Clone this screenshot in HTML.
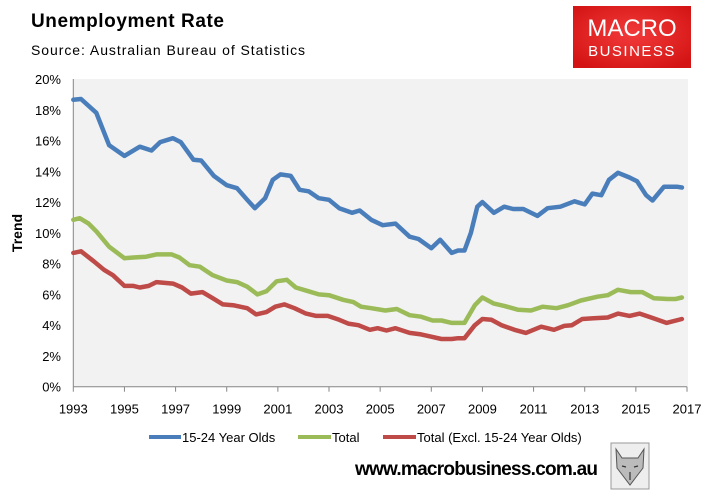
<!DOCTYPE html>
<html><head><meta charset="utf-8"><style>
body{margin:0;background:#fff;font-family:"Liberation Sans",sans-serif}
#w{position:relative;width:710px;height:496px;overflow:hidden}
</style></head><body>
<div id="w">
<svg width="710" height="496" font-family="Liberation Sans, sans-serif">
<text x="31" y="27" font-size="19" font-weight="bold" fill="#000" textLength="193">Unemployment Rate</text>
<text x="31" y="55" font-size="14" fill="#000" textLength="274">Source: Australian Bureau of Statistics</text>
<g>
<defs><radialGradient id="rg" cx="50%" cy="45%" r="65%"><stop offset="0" stop-color="#f23a3a"/><stop offset="1" stop-color="#d41414"/></radialGradient></defs>
<rect x="573" y="6" width="118" height="62" fill="url(#rg)"/>
<text x="632" y="36" font-size="24" fill="#fff" text-anchor="middle">MACRO</text>
<text x="632" y="56" font-size="15" fill="#fff" text-anchor="middle" letter-spacing="1.5">BUSINESS</text>
</g>
<rect x="73" y="79" width="615" height="308" fill="#f2f2f2"/>
<g id="axes"></g>
<g id="series"></g>
<text transform="translate(22,233) rotate(-90)" font-size="14" font-weight="bold" text-anchor="middle">Trend</text>
<g font-size="13">
<g><line x1="149" y1="437" x2="181" y2="437" stroke="#4a7ebb" stroke-width="4"/><text x="182" y="442">15-24 Year Olds</text></g>
<g><line x1="298" y1="437" x2="331" y2="437" stroke="#9bbb59" stroke-width="4"/><text x="332" y="442">Total</text></g>
<g><line x1="383" y1="437" x2="416" y2="437" stroke="#be4b48" stroke-width="4"/><text x="417" y="442">Total (Excl. 15-24 Year Olds)</text></g>
</g>
<text x="598" y="475" font-size="19" font-weight="bold" text-anchor="end" textLength="243">www.macrobusiness.com.au</text>
<g>
<rect x="611" y="443" width="38" height="46" fill="#eee" stroke="#999" stroke-width="1"/>
<path d="M616 449 L622 458 L638 458 L644 449 L643 468 L630 485 L617 468 Z" fill="#bbb" stroke="#555" stroke-width="1"/>
<path d="M622 466 l4 1 M634 467 l4 -1 M630 472 v8" stroke="#333" stroke-width="1.2"/>
</g>
</svg>
</div>
<script>
const years=[1993,1993.3,1993.9,1994.4,1995.0,1995.6,1996.06,1996.4,1996.9,1997.2,1997.7,1998.0,1998.5,1999.0,1999.4,1999.8,2000.1,2000.5,2000.8,2001.1,2001.5,2001.85,2002.2,2002.6,2003.0,2003.4,2003.9,2004.2,2004.65,2005.1,2005.6,2006.15,2006.5,2007.0,2007.35,2007.8,2008.05,2008.3,2008.55,2008.8,2009.0,2009.45,2009.85,2010.2,2010.6,2011.15,2011.55,2012.05,2012.6,2013.0,2013.3,2013.65,2013.95,2014.3,2014.75,2015.05,2015.4,2015.65,2016.1,2016.6,2016.8];
const youth=[18.65,18.7,17.8,15.7,15.0,15.6,15.35,15.9,16.15,15.9,14.75,14.7,13.7,13.1,12.9,12.15,11.6,12.25,13.45,13.8,13.7,12.8,12.7,12.25,12.15,11.6,11.3,11.45,10.85,10.5,10.6,9.75,9.6,9.0,9.55,8.7,8.85,8.85,10.0,11.7,12.0,11.3,11.7,11.55,11.55,11.1,11.6,11.7,12.05,11.85,12.55,12.45,13.45,13.9,13.6,13.35,12.45,12.1,13.0,13.0,12.95];
const totYears=[1993,1993.25,1993.6,1993.9,1994.4,1995.0,1995.35,1995.85,1996.25,1996.85,1997.15,1997.55,1997.95,1998.45,1999.0,1999.4,1999.8,2000.2,2000.55,2000.95,2001.35,2001.7,2002.2,2002.6,2003.0,2003.55,2003.95,2004.25,2004.65,2005.2,2005.65,2006.15,2006.6,2007.05,2007.4,2007.8,2008.3,2008.7,2009.0,2009.45,2009.85,2010.4,2010.9,2011.35,2011.9,2012.35,2012.85,2013.5,2013.9,2014.3,2014.8,2015.25,2015.7,2016.25,2016.55,2016.8];
const total=[10.85,10.95,10.6,10.1,9.1,8.35,8.4,8.45,8.6,8.6,8.4,7.9,7.8,7.25,6.9,6.8,6.5,6.0,6.2,6.85,6.95,6.45,6.2,6.0,5.95,5.65,5.5,5.2,5.1,4.95,5.05,4.65,4.55,4.3,4.3,4.15,4.15,5.3,5.8,5.4,5.25,5.0,4.95,5.2,5.1,5.3,5.6,5.85,5.95,6.3,6.15,6.15,5.75,5.7,5.7,5.8];
const exYears=[1993,1993.3,1993.8,1994.2,1994.55,1995.0,1995.35,1995.6,1995.95,1996.25,1996.9,1997.25,1997.6,1998.05,1998.45,1998.85,1999.25,1999.8,2000.15,2000.55,2000.9,2001.25,2001.65,2002.1,2002.5,2002.95,2003.4,2003.75,2004.15,2004.6,2004.9,2005.25,2005.6,2006.15,2006.6,2007.0,2007.4,2007.8,2008.05,2008.3,2008.7,2009.0,2009.35,2009.75,2010.25,2010.7,2011.3,2011.8,2012.2,2012.5,2012.9,2013.35,2013.9,2014.3,2014.75,2015.15,2015.6,2016.2,2016.8];
const excl=[8.7,8.8,8.15,7.6,7.25,6.55,6.55,6.45,6.55,6.8,6.7,6.45,6.05,6.15,5.75,5.35,5.3,5.1,4.7,4.85,5.2,5.35,5.1,4.75,4.6,4.6,4.35,4.1,4.0,3.7,3.8,3.65,3.8,3.5,3.4,3.25,3.1,3.1,3.15,3.15,4.0,4.4,4.35,4.0,3.7,3.5,3.9,3.7,3.95,4.0,4.4,4.45,4.5,4.75,4.6,4.75,4.5,4.15,4.4];
const yTicks=[0,2,4,6,8,10,12,14,16,18,20];
const xTicks=[1993,1995,1997,1999,2001,2003,2005,2007,2009,2011,2013,2015,2017];
const NS='http://www.w3.org/2000/svg';
const X0=73.3,X1=687,Y0=386.7,Y1=79;
const xs=y=>X0+(y-1993)/(2017-1993)*(X1-X0);
const ys=v=>Y0-v/20*(Y0-Y1);
function mk(t,a,p){const e=document.createElementNS(NS,t);for(const k in a)e.setAttribute(k,a[k]);p.appendChild(e);return e;}
const ax=document.getElementById('axes');
const yl=mk('line',{x1:X0,y1:Y1,x2:X0,y2:Y0,stroke:'#868686'},ax);


const xl=mk('line',{x1:X0,y1:Y0,x2:X1,y2:Y0,stroke:'#868686'},ax);


yTicks.forEach(v=>{const t=mk('text',{x:61,y:ys(v)+5,'font-size':13,'text-anchor':'end'},ax);t.textContent=v+'%';

});
xTicks.forEach(v=>{mk('line',{x1:xs(v),y1:Y0,x2:xs(v),y2:Y0+5,stroke:'#868686'},ax);
const t=mk('text',{x:xs(v),y:Y0+27,'font-size':13,'text-anchor':'middle'},ax);t.textContent=v;

});
const sg=document.getElementById('series');
function line(xv,yv,c,n){const d=xv.map((x,i)=>(i?'L':'M')+xs(x).toFixed(1)+' '+ys(yv[i]).toFixed(1)).join(' ');
const p=mk('path',{d:d,fill:'none',stroke:c,'stroke-width':4.5,'stroke-linejoin':'round','stroke-linecap':'round'},sg);

}
line(exYears,excl,'#be4b48','series-total-excl-15-24');
line(totYears,total,'#9bbb59','series-total');
line(years,youth,'#4a7ebb','series-15-24-year-olds');
</script>
</body></html>
